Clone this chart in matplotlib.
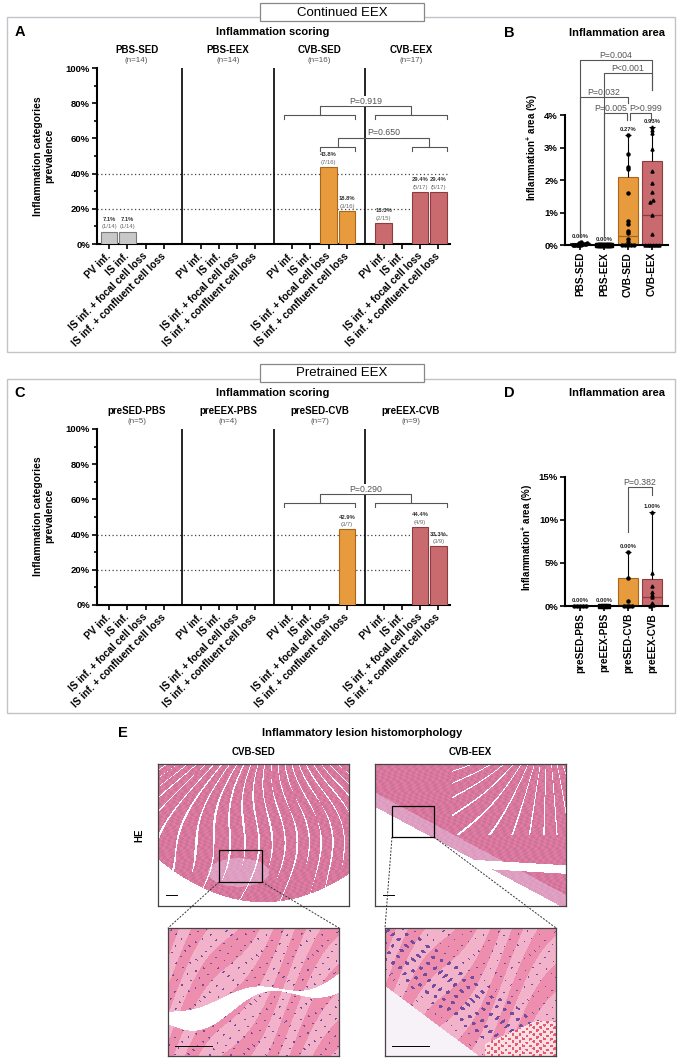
import numpy as np
import matplotlib.pyplot as plt
from matplotlib.patches import Rectangle
from matplotlib.lines import Line2D

plt.rcParams['font.family'] = ['Liberation Sans', 'DejaVu Sans']
plt.rcParams['mathtext.fontset'] = 'custom'
plt.rcParams['mathtext.rm'] = 'Liberation Sans'
plt.rcParams['mathtext.bf'] = 'Liberation Sans:bold'

# ---------------- data ----------------
categories = ['PV inf.', 'IS inf.', 'IS inf. + focal cell loss', 'IS inf. + confluent cell loss']

# A: continued EEX, inflammation scoring (% of animals)
groups_A = ['PBS-SED', 'PBS-EEX', 'CVB-SED', 'CVB-EEX']
n_A = [14, 14, 16, 17]
prev_A = [[7.1, 7.1, 0, 0], [0, 0, 0, 0], [0, 0, 43.8, 18.8], [11.8, 0, 29.4, 29.4]]
pct_A = [['7.1%', '7.1%', '', ''], ['', '', '', ''], ['', '', '43.8%', '18.8%'], ['13.3%', '', '29.4%', '29.4%']]
frac_A = [['(1/14)', '(1/14)', '', ''], ['', '', '', ''], ['', '', '(7/16)', '(3/16)'], ['(2/15)', '', '(5/17)', '(5/17)']]
pval_A = ['P=0.919', 'P=0.650']

# C: pretrained EEX, inflammation scoring
groups_C = ['preSED-PBS', 'preEEX-PBS', 'preSED-CVB', 'preEEX-CVB']
n_C = [5, 4, 7, 9]
prev_C = [[0, 0, 0, 0], [0, 0, 0, 0], [0, 0, 0, 42.9], [0, 0, 44.4, 33.3]]
pct_C = [['', '', '', ''], ['', '', '', ''], ['', '', '', '42.9%'], ['', '', '44.4%', '33.3%']]
frac_C = [['', '', '', ''], ['', '', '', ''], ['', '', '', '(3/7)'], ['', '', '(4/9)', '(3/9)']]
pval_C = ['P=0.290']

# B: continued EEX, inflammation area (%)
groups_B = ['PBS-SED', 'PBS-EEX', 'CVB-SED', 'CVB-EEX']
area_B = [
    [0.09, 0.06, 0.05, 0.04, 0.03, 0.02, 0.02, 0.01, 0.01, 0.0, 0.0, 0.0, 0.0, 0.0],
    [0.01, 0.01, 0.0, 0.0, 0.0, 0.0, 0.0, 0.0, 0.0, 0.0, 0.0, 0.0, 0.0, 0.0],
    [3.38, 2.8, 2.41, 2.34, 1.61, 0.74, 0.65, 0.44, 0.36, 0.2, 0.1, 0.0, 0.0, 0.0, 0.0, 0.0],
    [3.62, 3.54, 3.44, 2.95, 2.27, 1.9, 1.62, 1.38, 1.33, 0.93, 0.35, 0.0, 0.0, 0.0, 0.0, 0.0, 0.0],
]
q3_B = [0.05, 0.01, 2.09, 2.6]
med_B = [0.0, 0.0, 0.27, 0.93]
medlab_B = ['0.00%', '0.00%', '0.27%', '0.93%']
pval_B = ['P=0.004', 'P<0.001', 'P=0.032', 'P=0.005', 'P>0.999']

# D: pretrained EEX, inflammation area (%)
groups_D = ['preSED-PBS', 'preEEX-PBS', 'preSED-CVB', 'preEEX-CVB']
area_D = [
    [0.0, 0.0, 0.0, 0.0, 0.0],
    [0.0, 0.0, 0.0, 0.0],
    [6.3, 3.2, 0.6, 0.0, 0.0, 0.0, 0.0],
    [10.85, 3.8, 2.3, 1.6, 1.3, 1.0, 0.3, 0.1, 0.0],
]
q3_D = [0.0, 0.0, 3.2, 3.1]
med_D = [0.0, 0.0, 0.0, 1.08]
medlab_D = ['0.00%', '0.00%', '0.00%', '1.00%']
pval_D = ['P=0.382']

# ---------------- style ----------------
W, H = 685, 1061
fill = ['#c8c8c8', '#c8c8c8', '#e89b3c', '#c96b6e']
edge = ['#7a7a7a', '#7a7a7a', '#a8661c', '#8e3b3e']
pcol = '#555555'
markers = ['o', 's', 'o', '^']

fig = plt.figure(figsize=(W / 100, H / 100), dpi=100)


def px_ax(x0, y0, x1, y1):
    return fig.add_axes([x0 / W, 1 - y1 / H, (x1 - x0) / W, (y1 - y0) / H])


def ftext(x, y, s, **kw):
    fig.text(x / W, 1 - y / H, s, **kw)


def fline(x0, y0, x1, y1, **kw):
    fig.add_artist(Line2D([x0 / W, x1 / W], [1 - y0 / H, 1 - y1 / H], transform=fig.transFigure, **kw))


def frect(x0, y0, x1, y1, **kw):
    r = Rectangle((x0 / W, 1 - y1 / H), (x1 - x0) / W, (y1 - y0) / H, transform=fig.transFigure, **kw)
    fig.add_artist(r)


def style_axes(ax):
    for s in ('top', 'right'):
        ax.spines[s].set_visible(False)
    for s in ('left', 'bottom'):
        ax.spines[s].set_linewidth(1.5)
    ax.tick_params(width=1.2, length=3.5, labelsize=6.8, pad=1.5)
    for t in ax.get_yticklabels():
        t.set_fontweight('bold')


def draw_scoring(ax, groups, ns, prev, pct, frac, comps, pvals):
    xpos = []
    for g in range(4):
        xs = [g * 5 + i for i in range(4)]
        xpos += xs
        ax.bar(xs, prev[g], width=0.9, color=fill[g], edgecolor=edge[g], lw=0.8, zorder=3)
        for i in range(4):
            if pct[g][i]:
                ax.text(xs[i], prev[g][i] + 7, pct[g][i], ha='center', va='center',
                        fontsize=4.2, fontweight='bold', color='#333333')
                ax.text(xs[i], prev[g][i] + 2.6, frac[g][i], ha='center', va='center',
                        fontsize=4.2, color='#666666')
        ax.text(g * 5 + 1.5, 110, groups[g], ha='center', va='center', fontsize=7, fontweight='bold')
        ax.text(g * 5 + 1.5, 104, f'(n={ns[g]})', ha='center', va='center', fontsize=5.8, color='#555555')
    for s in (4, 9, 14):
        ax.axvline(s, color='black', lw=1.2, zorder=4)
    for yv in (20, 40):
        ax.axhline(yv, color='#444444', lw=0.9, ls=(0, (1, 2)), zorder=1)
    # group 2 vs group 3 comparisons
    for (i0, i1, ylow, ytop), p in zip(comps, pvals):
        lo = (10 + i0 - 0.45, 10 + i1 + 0.45)
        hi = (15 + i0 - 0.45, 15 + i1 + 0.45)
        for a, b in (lo, hi):
            ax.plot([a, a, b, b], [ylow - 2.4, ylow, ylow, ylow - 2.4], color=pcol, lw=0.8, zorder=5)
        c0, c1 = sum(lo) / 2, sum(hi) / 2
        ax.plot([c0, c0, c1, c1], [ylow, ytop, ytop, ylow], color=pcol, lw=0.8, zorder=5)
        ax.text((c0 + c1) / 2, ytop + 2.9, p, ha='center', va='center', fontsize=6.3, color=pcol,
                bbox=dict(fc='white', ec='none', pad=0.3), zorder=6)
    ax.set_xlim(-0.66, 18.63)
    ax.set_ylim(0, 100)
    ax.set_yticks(range(0, 101, 20))
    ax.set_yticklabels([f'{v}%' for v in range(0, 101, 20)])
    ax.set_yticks(range(10, 100, 20), minor=True)
    ax.tick_params(axis='y', which='minor', length=2, width=1.2)
    ax.set_xticks(xpos)
    ax.set_xticklabels(categories * 4, rotation=45, ha='right', va='center',
                       rotation_mode='anchor', fontweight='bold')
    style_axes(ax)
    ax.tick_params(axis='x', pad=4, labelsize=7.3)


def spread(vals, step, tol, width=0.62):
    vals = np.asarray(vals)
    xs = np.zeros(len(vals))
    order = np.argsort(vals)
    clusters = []
    for idx in order:
        if clusters and vals[idx] - vals[clusters[-1][0]] <= tol:
            clusters[-1].append(idx)
        else:
            clusters.append([idx])
    for c in clusters:
        k = len(c)
        st = min(step, width / max(k - 1, 1))
        xs[c] = (np.arange(k) - (k - 1) / 2) * st
    return xs


def draw_area(ax, groups, vals, q3, med, medlab, tol):
    for i in range(4):
        v = np.asarray(vals[i])
        ax.bar(i, q3[i], width=0.8, color=fill[i], edgecolor=edge[i] if i > 1 else '#333333',
               lw=0.8, zorder=2)
        if q3[i] > 0.5:
            ax.hlines(med[i], i - 0.4, i + 0.4, color=edge[i], lw=0.9, zorder=3)
        top = v.max()
        if top > q3[i] + 0.2:
            ax.vlines(i, q3[i], top, color='black', lw=0.8, zorder=3)
            ax.hlines(top, i - 0.13, i + 0.13, color='black', lw=0.8, zorder=3)
        ax.plot(i + spread(v, 0.12, tol), v, markers[i], color='black', ms=2.2, ls='none',
                zorder=4, clip_on=False)
        ax.annotate(medlab[i], (i, top), xytext=(0, 2.2), textcoords='offset points',
                    ha='center', va='bottom', fontsize=4.2, fontweight='bold', color='#222222')
    ax.set_xlim(-0.625, 3.67)
    ax.set_xticks(range(4))
    ax.set_xticklabels(groups, rotation=90, fontweight='bold')
    style_axes(ax)
    ax.tick_params(axis='x', labelsize=7.2)


def bracket(ax, xa, xb, ytop, ya, yb, text, tx):
    ax.plot([xa, xa, xb, xb], [ya, ytop, ytop, yb], color=pcol, lw=0.8, zorder=5, clip_on=False)
    ax.text(tx, ytop, text, ha='center', va='bottom', fontsize=6.3, color=pcol)


# ---------------- panel frames ----------------
frect(7, 17, 675, 352, fill=False, ec='#c0c4c8', lw=1)
frect(7, 379, 675, 713, fill=False, ec='#c0c4c8', lw=1)
for y0, lab in ((3, 'Continued EEX'), (364, 'Pretrained EEX')):
    frect(260, y0, 424, y0 + 18, fc='white', ec='#888888', lw=0.9, zorder=5)
    ftext(342, y0 + 9.5, lab, ha='center', va='center', fontsize=9.5, zorder=6)

# ---------------- A ----------------
ftext(20, 32, 'A', ha='center', va='center', fontsize=10.5, fontweight='bold')
ftext(273, 32, 'Inflammation scoring', ha='center', va='center', fontsize=8, fontweight='bold')
ftext(44, 156, 'Inflammation categories\nprevalence', ha='center', va='center', rotation=90,
      fontsize=7.5, fontweight='bold', linespacing=1.15)
axA = px_ax(97, 68, 450, 244)
draw_scoring(axA, groups_A, n_A, prev_A, pct_A, frac_A, [(0, 3, 73.5, 78.2), (2, 3, 55.1, 60.2)], pval_A)

# ---------------- B ----------------
ftext(509, 33, 'B', ha='center', va='center', fontsize=10.5, fontweight='bold')
ftext(617, 33, 'Inflammation area', ha='center', va='center', fontsize=8, fontweight='bold')
axB = px_ax(565, 50, 668, 245)
draw_area(axB, groups_B, area_B, q3_B, med_B, medlab_B, tol=0.05)
axB.set_ylim(0, 6.0)
axB.set_yticks(range(5))
axB.set_yticklabels([f'{v}%' for v in range(5)], fontweight='bold')
axB.spines['left'].set_bounds(0, 4)
axB.set_ylabel(r'Inflammation$^{\mathbf{+}}$ area (%)', fontsize=7, fontweight='bold', labelpad=3)
bracket(axB, 0, 3, 5.69, 0.26, 4.77, pval_B[0], 1.5)
bracket(axB, 1, 3, 5.28, 0.26, 4.77, pval_B[1], 2.0)
bracket(axB, 0, 2, 4.56, 0.26, 4.36, pval_B[2], 1.0)
bracket(axB, 1, 1.95, 4.05, 0.26, 3.85, pval_B[3], 1.3)
bracket(axB, 2.1, 2.95, 4.05, 3.85, 3.85, pval_B[4], 2.75)

# ---------------- C ----------------
ftext(20, 393, 'C', ha='center', va='center', fontsize=10.5, fontweight='bold')
ftext(273, 393, 'Inflammation scoring', ha='center', va='center', fontsize=8, fontweight='bold')
ftext(44, 516, 'Inflammation categories\nprevalence', ha='center', va='center', rotation=90,
      fontsize=7.5, fontweight='bold', linespacing=1.15)
axC = px_ax(97, 429, 450, 605)
draw_scoring(axC, groups_C, n_C, prev_C, pct_C, frac_C, [(0, 3, 57.8, 62.9)], pval_C)

# ---------------- D ----------------
ftext(509, 393, 'D', ha='center', va='center', fontsize=10.5, fontweight='bold')
ftext(617, 393, 'Inflammation area', ha='center', va='center', fontsize=8, fontweight='bold')
axD = px_ax(565, 468, 668, 606)
draw_area(axD, groups_D, area_D, q3_D, med_D, medlab_D, tol=0.2)
axD.set_ylim(0, 16)
axD.set_yticks(range(0, 16, 5))
axD.set_yticklabels([f'{v}%' for v in range(0, 16, 5)], fontweight='bold')
axD.spines['left'].set_bounds(0, 15)
axD.set_ylabel(r'Inflammation$^{\mathbf{+}}$ area (%)', fontsize=7, fontweight='bold', labelpad=3)
bracket(axD, 2, 3, 13.8, 8.6, 12.9, pval_D[0], 2.5)


# ---------------- E: H&E histology (stylised) ----------------
def overview(h, w, kind):
    v, u = np.mgrid[0:h, 0:w].astype(float)
    u /= w
    v /= h
    pink = np.array([0.90, 0.50, 0.66])
    grain = 0.94 + 0.06 * np.sin(u * 170 + 3 * np.sin(v * 40)) * np.sin(v * 140 + u * 30)
    img = pink[None, None, :] * grain[..., None]
    if kind == 'sed':
        ang = np.arctan2(u - 0.65, v + 0.6)
        streak = np.sin(ang * 110 + 6 * np.sin(v * 5 + u * 3))
        gaps = streak > 0.91 + 0.07 * v + 0.08 * np.sin(u * 17 + v * 9) * np.sin(ang * 23)
        outside = v > 0.97 - 0.3 * ((u - 0.55) / 0.55) ** 2
        loose = ((u - 0.42) / 0.16) ** 2 + ((v - 0.76) / 0.1) ** 2 < 1
    else:
        ang = np.arctan2(u - 0.9, v + 0.3)
        streak = np.sin(ang * 60 + 4 * np.sin(u * 6))
        gaps = (streak > 0.95) & (v < 0.5) & (u > 0.4)
        rim = 0.3 + 0.72 * u
        outside = (v > rim) | ((np.abs(v - 0.66 - 0.08 * u) < 0.03) & (u > 0.5))
        loose = (v > rim - 0.1) & (v <= rim)
    img[loose] = img[loose] * 0.5 + np.array([0.90, 0.78, 0.90]) * 0.5
    img[gaps | outside] = 1.0
    return img


def closeup(h, w, kind):
    y, x = np.mgrid[0:h, 0:w].astype(float)
    u, v = x / w, y / h
    fib = np.sin((u * 3 + v * 1.3) * 11 + 2 * np.sin(u * 9))
    img = np.where(fib[..., None] > 0, np.array([0.93, 0.56, 0.69]), np.array([0.95, 0.70, 0.79]))
    nuc = np.sin(x * 0.45 + 2 * np.sin(y * 0.13)) * np.sin(y * 0.55 + 2 * np.sin(x * 0.11))
    purple = np.array([0.45, 0.30, 0.62])
    if kind == 'sed':
        gap = np.abs(v - 0.55 + 0.3 * (u - 0.5) - 0.06 * np.sin(u * 9)) < 0.05 + 0.04 * np.sin(u * 7)
        img[nuc > 0.9] = purple
        img[gap] = 1.0
    else:
        band = np.abs(v - 0.1 - 0.95 * u) < 0.22
        thr = np.where(band, 0.6, 0.93)
        img[nuc > thr] = purple
        outside = v > 0.45 + 1.0 * u
        img[outside] = np.array([0.97, 0.95, 0.97])
        pool = (u > 0.58) & (v > 0.72) & (v > 1.25 - 0.6 * u)
        rbc = np.sin(x * 0.9) * np.sin(y * 0.9 + np.sin(x * 0.3)) > 0.3
        img[pool] = np.array([0.98, 0.88, 0.90])
        img[pool & rbc] = np.array([0.92, 0.35, 0.45])
    return img


ftext(123, 733, 'E', ha='center', va='center', fontsize=10.5, fontweight='bold')
ftext(362, 733, 'Inflammatory lesion histomorphology', ha='center', va='center', fontsize=8, fontweight='bold')
ftext(253, 752, 'CVB-SED', ha='center', va='center', fontsize=7, fontweight='bold')
ftext(470, 752, 'CVB-EEX', ha='center', va='center', fontsize=7, fontweight='bold')
ftext(139, 835, 'HE', ha='center', va='center', fontsize=7, fontweight='bold', rotation=90)

panels_E = [((158, 764, 349, 906), overview(142, 191, 'sed')),
            ((375, 764, 566, 906), overview(142, 191, 'eex')),
            ((168, 928, 339, 1056), closeup(128, 171, 'sed')),
            ((385, 928, 556, 1056), closeup(128, 171, 'eex'))]
for (x0, y0, x1, y1), img in panels_E:
    ax = px_ax(x0, y0, x1, y1)
    ax.imshow(img, aspect='auto', interpolation='bilinear')
    ax.set_xticks([])
    ax.set_yticks([])
    for s in ax.spines.values():
        s.set_linewidth(0.9)
        s.set_color('#444444')
    # scale bar
    L = 0.06 if y0 < 900 else 0.22
    ax.plot([0.04, 0.04 + L], [0.08, 0.08], color='black', lw=0.7, transform=ax.transAxes)

for (x0, y0, x1, y1), (bx0, bx1) in (((219, 850, 262, 882), (168, 339)), ((392, 806, 434, 837), (385, 556))):
    frect(x0, y0, x1, y1, fill=False, ec='black', lw=0.9, zorder=5)
    fline(x0, y1, bx0, 928, color='#333333', lw=0.7, ls=(0, (2, 1.5)))
    fline(x1, y1, bx1, 928, color='#333333', lw=0.7, ls=(0, (2, 1.5)))

fig.savefig('out.png', dpi=100)
